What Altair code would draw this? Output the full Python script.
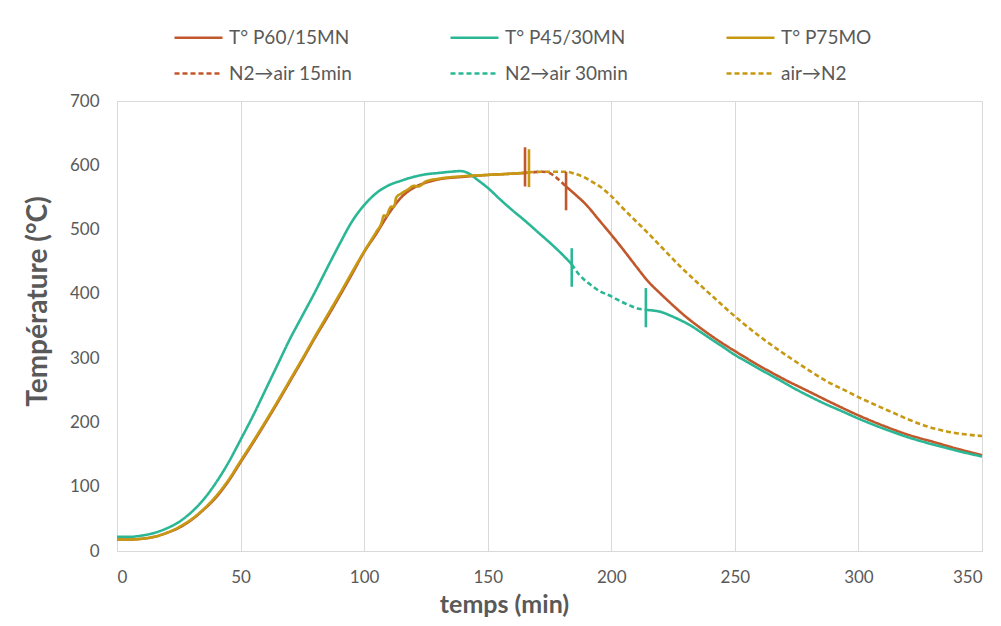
import altair as alt
import pandas as pd

# legend order (column-major fill: col1 = P60 pair, col2 = P45 pair, col3 = P75 pair)
SERIES = ["T° P60/15MN", "N2→air 15min", "T° P45/30MN", "N2→air 30min", "T° P75MO", "air→N2"]
COLORS = ["#C0582C", "#C0582C", "#2BB796", "#2BB796", "#C79812", "#C79812"]
DASHES = [[1, 0], [5, 3], [1, 0], [5, 3], [1, 0], [5, 3]]

# P60/15MN
p60_a_t = [0, 5, 10, 15, 20, 25, 30, 35, 40, 45, 50, 55, 60, 65, 70, 75, 80, 85, 90, 95, 100,
           105, 110, 115, 120, 125, 130, 140, 150, 160, 165.1]
p60_a_v = [18, 18, 19, 22, 28, 36, 48, 64, 83, 108, 138, 168, 199, 231, 264, 297, 331, 363, 396, 430, 465,
           494, 525, 550, 565, 573, 578, 582, 585, 587, 588]
p60_d_t = [165.1, 168, 172, 175, 178, 181.7]
p60_d_v = [588, 589, 590, 588, 580, 567]
p60_b_t = [181.7, 185, 190, 195, 200, 205, 210, 215, 220, 225, 230, 235, 240, 245, 250, 260, 270, 280,
           290, 300, 310, 320, 330, 340, 350]
p60_b_v = [567, 556, 538, 515, 492, 468, 443, 419, 400, 382, 365, 350, 336, 323, 311, 288, 267, 248,
           229, 211, 195, 181, 170, 159, 149]

# P45/30MN
p45_a_t = [0, 5, 10, 15, 20, 25, 30, 35, 40, 45, 50, 55, 60, 65, 70, 75, 80, 85, 90, 95, 100,
           105, 110, 115, 120, 125, 130, 135, 139, 142, 146, 150, 155, 160, 165, 170, 175, 180, 184]
p45_a_v = [22, 22, 24, 28, 35, 45, 60, 80, 106, 137, 173, 210, 250, 290, 330, 366, 402, 440, 477, 512, 538,
           557, 569, 576, 582, 586, 588, 590, 591, 588, 577, 565, 547, 530, 514, 497, 480, 462, 446]
p45_d_t = [184, 187, 191, 195, 200, 204, 208, 211, 214]
p45_d_v = [446, 430, 416, 405, 396, 388, 381, 377, 375]
p45_b_t = [214, 217, 220, 224, 228, 232, 236, 241, 245, 250, 255, 260, 268, 274, 280, 287, 293,
           300, 307, 314, 320, 327, 335, 342, 350]
p45_b_v = [375, 374, 372, 366, 359, 351, 341, 328, 318, 305, 294, 283, 266, 253, 241, 228, 218,
           206, 195, 185, 177, 169, 161, 154, 147]

# P75MO
p75_a_t = [0, 5, 10, 15, 20, 25, 30, 35, 40, 45, 50, 55, 60, 65, 70, 75, 80, 85, 90, 95, 100,
           105, 107, 108, 109, 110, 111, 112, 113, 115, 118, 120, 122, 125, 130, 140, 150, 160, 166.7]
p75_a_v = [18, 18, 19, 22, 28, 37, 49, 65, 85, 110, 140, 170, 201, 233, 266, 299, 333, 366, 399, 433, 466,
           497, 510, 522, 521, 530, 536, 535, 550, 556, 563, 568, 567, 575, 579, 583, 585, 587, 589]
p75_d_t = [166.7, 172, 178, 182, 185, 188.7, 192, 195.4, 200, 205, 210, 215, 220, 227.8, 235, 241.3,
           250.3, 260, 268.3, 273.7, 280, 287.2, 295, 300.2, 307, 314.1, 320, 327.6, 335.7, 342, 350]
p75_d_v = [589, 590, 590, 590, 587, 582, 575, 567, 552, 532, 513, 494, 474, 443, 417, 395,
           364, 334, 311, 297, 281, 264, 249, 239, 227, 215, 205, 194, 186, 182, 179]

# switch markers
mark_serie = ["T° P60/15MN", "T° P75MO", "T° P60/15MN", "T° P45/30MN", "T° P45/30MN"]
mark_t = [165.1, 166.7, 181.7, 184, 214]
mark_lo = [567, 566, 530, 411, 348]
mark_hi = [628, 625, 590, 471, 409]

segments = [
    ("T° P60/15MN", "p60a", p60_a_t, p60_a_v),
    ("N2→air 15min", "p60d", p60_d_t, p60_d_v),
    ("T° P60/15MN", "p60b", p60_b_t, p60_b_v),
    ("T° P45/30MN", "p45a", p45_a_t, p45_a_v),
    ("N2→air 30min", "p45d", p45_d_t, p45_d_v),
    ("T° P45/30MN", "p45b", p45_b_t, p45_b_v),
    ("T° P75MO", "p75a", p75_a_t, p75_a_v),
    ("air→N2", "p75d", p75_d_t, p75_d_v),
]
rows = []
order = 0
for serie, seg, ts, vs in segments:
    for t, v in zip(ts, vs):
        rows.append({"serie": serie, "seg": seg, "t": t, "v": v, "o": order})
        order += 1
df = pd.DataFrame(rows)
tdf = pd.DataFrame({"serie": mark_serie, "t": mark_t, "lo": mark_lo, "hi": mark_hi})

FONT = "Lato"
GREY = "#595959"

color_scale = alt.Scale(domain=SERIES, range=COLORS)
dash_scale = alt.Scale(domain=SERIES, range=DASHES)
leg = alt.Legend(title=None)

x_enc = alt.X("t:Q", scale=alt.Scale(domain=[0, 350], nice=False),
              axis=alt.Axis(values=list(range(0, 351, 50)), title="temps (min)", grid=True,
                            titleX=387, titleY=53, titleBaseline="middle", titleAlign="center",
                            titleFontSize=25))
y_enc = alt.Y("v:Q", scale=alt.Scale(domain=[0, 700], nice=False),
              axis=alt.Axis(values=list(range(0, 701, 100)), title="Température (°C)", grid=False,
                            titleX=-79, titleY=200, titleAngle=270, titleBaseline="middle",
                            titleAlign="center"))

lines = alt.Chart(df).mark_line(strokeWidth=2.6, interpolate="monotone").encode(
    x=x_enc,
    y=y_enc,
    color=alt.Color("serie:N", scale=color_scale, legend=leg),
    strokeDash=alt.StrokeDash("serie:N", scale=dash_scale, legend=leg),
    detail="seg:N",
    order="o:Q",
)

ticks = alt.Chart(tdf).mark_rule(strokeWidth=2.6).encode(
    x="t:Q",
    y="lo:Q",
    y2="hi:Q",
    color=alt.Color("serie:N", scale=color_scale, legend=leg),
)

chart = alt.layer(lines, ticks).properties(
    width=865, height=450,
    padding={"left": 109, "top": 93, "right": 11, "bottom": 66},
    autosize=alt.AutoSizeParams(type="none"),
).configure_view(
    stroke="#D9D9D9", strokeWidth=1
).configure_axis(
    labelFont=FONT, labelFontSize=17, labelColor=GREY,
    titleFont=FONT, titleFontSize=28, titleFontWeight="bold", titleColor=GREY,
    ticks=False, tickSize=0, domain=False,
    gridColor="#D9D9D9", gridWidth=1,
).configure_axisX(
    labelPadding=18,
).configure_axisY(
    labelPadding=18,
).configure_legend(
    orient="none", legendX=56, legendY=-89, columns=3,
    symbolType="stroke", symbolSize=2304, symbolStrokeWidth=2.6,
    labelFont=FONT, labelFontSize=19, labelColor=GREY, labelOffset=5, labelLimit=400,
    columnPadding=92, rowPadding=-5, gridAlign="all", padding=0,
)

chart.save("out.html", embed_options={"renderer": "svg", "actions": False})
